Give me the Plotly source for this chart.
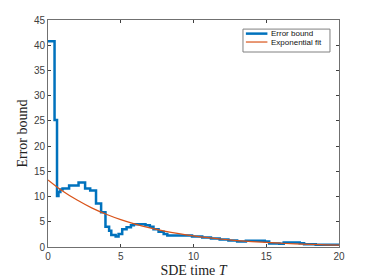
import plotly.graph_objects as go

# Error bound (step curve)
t_err = [0, 0.45, 0.62, 0.72, 0.85, 1.0, 1.45, 2.1, 2.55, 2.9, 3.3, 3.65, 3.95, 4.2, 4.35,
         4.65, 4.85, 5.1, 5.4, 5.7, 5.9, 6.7, 7.0, 7.25, 7.6, 7.95, 8.2, 9.5, 9.9, 10.6,
         11.2, 11.8, 12.4, 13.0, 13.6, 14.9, 15.2, 15.9, 16.2, 17.3, 17.6, 18.4, 20]
err = [40.8, 25.2, 10.1, 10.9, 11.4, 11.6, 12.2, 12.8, 11.6, 11.2, 8.6, 6.9, 4.0, 3.2, 2.4,
       2.1, 2.6, 3.5, 3.9, 4.3, 4.5, 4.3, 4.0, 3.5, 3.0, 2.6, 2.3, 2.3, 2.1, 1.9,
       1.7, 1.5, 1.3, 1.1, 1.25, 1.1, 0.7, 0.65, 0.9, 0.75, 0.55, 0.45, 0.5]

# Exponential fit, values read at integer times
t_fit = list(range(0, 21))
fit = [13.3, 11.1, 9.3, 7.76, 6.49, 5.42, 4.53, 3.78, 3.16, 2.64, 2.2,
       1.84, 1.54, 1.28, 1.07, 0.9, 0.75, 0.62, 0.52, 0.44, 0.36]

series_names = ["Error bound", "Exponential fit"]
series_colors = ["#0072BD", "#D95319"]
series_widths = [2.5, 1.2]

x_ticks = [0, 5, 10, 15, 20]
y_ticks = [0, 5, 10, 15, 20, 25, 30, 35, 40, 45]

fig = go.Figure()
fig.add_trace(go.Scatter(x=t_err, y=err, mode="lines", name=series_names[0],
                         line=dict(color=series_colors[0], width=series_widths[0], shape="hv")))
fig.add_trace(go.Scatter(x=t_fit, y=fit, mode="lines", name=series_names[1],
                         line=dict(color=series_colors[1], width=series_widths[1], shape="spline")))

axis_common = dict(showgrid=False, zeroline=False, showline=True, linecolor="#707070",
                   linewidth=1, mirror="ticks", ticks="inside", ticklen=3,
                   tickcolor="#404040", automargin=False,
                   tickfont=dict(family="Liberation Sans, Arial", size=10, color="#404040"))

# Compact MATLAB-style legend drawn manually
shapes = [dict(type="rect", xref="paper", yref="paper", x0=0.670, x1=0.969, y0=0.859, y1=0.960,
               line=dict(color="#808080", width=1), fillcolor="white", layer="above")]
annotations = []
legend_rows = [0.940, 0.903]
for name, col, w, yy in zip(series_names, series_colors, series_widths, legend_rows):
    shapes.append(dict(type="line", xref="paper", yref="paper", x0=0.680, x1=0.754, y0=yy, y1=yy,
                       line=dict(color=col, width=w), layer="above"))
    annotations.append(dict(xref="paper", yref="paper", x=0.758, y=yy, text=name, showarrow=False,
                            xanchor="left", yanchor="middle",
                            font=dict(family="Liberation Sans, Arial", size=8, color="#111")))

# the page body adds an 8px offset, so the figure is sized to compensate
fig.update_layout(
    width=366, height=272,
    margin=dict(l=40, r=35, t=12, b=33, autoexpand=False),
    paper_bgcolor="white", plot_bgcolor="white",
    showlegend=False,
    shapes=shapes, annotations=annotations,
    xaxis=dict(range=[0, 20], tickvals=x_ticks,
               title=dict(text="SDE time <i>T</i>", standoff=4,
                          font=dict(family="Liberation Serif, DejaVu Serif", size=14, color="#222")),
               **axis_common),
    yaxis=dict(range=[0, 45], tickvals=y_ticks,
               title=dict(text="Error bound", standoff=2,
                          font=dict(family="Liberation Serif, DejaVu Serif", size=14, color="#222")),
               **axis_common),
)

fig.write_html("out.html")
